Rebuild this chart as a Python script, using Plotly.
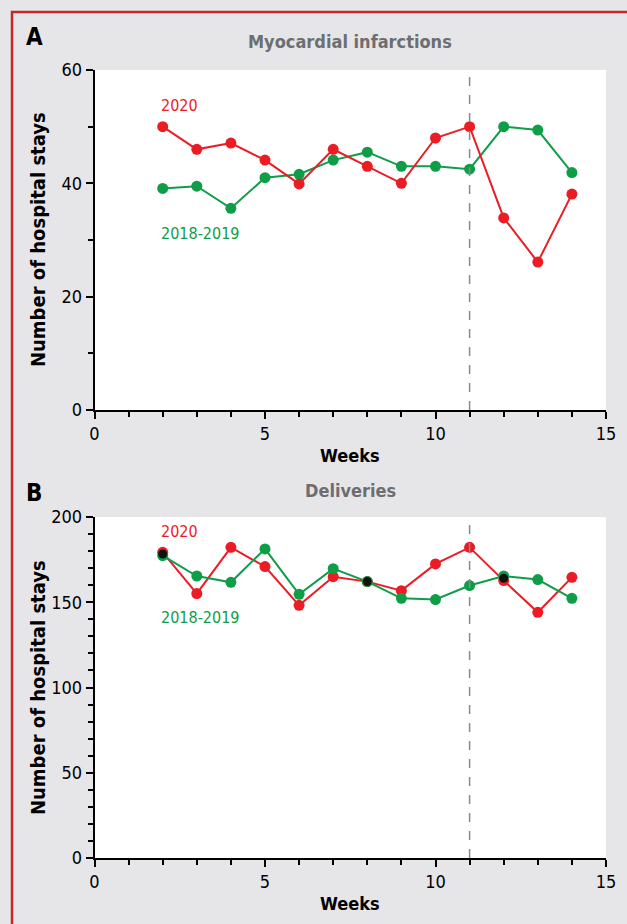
import plotly.graph_objects as go

weeks = list(range(2, 15))
mi_2020 = [50, 46, 47.1, 44.1, 39.9, 46, 43, 40, 48, 50, 33.9, 26.1, 38.1]
mi_1819 = [39.1, 39.5, 35.6, 41, 41.6, 44.1, 45.5, 43, 43, 42.5, 50, 49.4, 41.9]
del_2020 = [179.3, 155.1, 182.2, 170.9, 148.2, 165, 162.1, 156.8, 172.5, 182.2, 162.7, 144.1, 164.6]
del_1819 = [177.3, 165.4, 161.7, 181.3, 154.7, 169.7, 162.1, 152.3, 151.6, 159.8, 165.4, 163.3, 152.3]

RED = "#ec1c24"
GREEN = "#0f9d48"
FONT = "DejaVu Sans Condensed, Liberation Sans Narrow, Arial Narrow, sans-serif"
W, H = 627, 924

def px_x(p):
    return p / W

def px_y(p):
    return 1 - p / H

fig = go.Figure()

def add_series(x, y, color, xa, ya):
    fig.add_trace(go.Scatter(x=x, y=y, mode="lines+markers", xaxis=xa, yaxis=ya,
                             line=dict(color=color, width=2),
                             marker=dict(color=color, size=11),
                             showlegend=False, hoverinfo="skip"))

add_series(weeks, mi_1819, GREEN, "x", "y")
add_series(weeks, mi_2020, RED, "x", "y")
add_series(weeks, del_2020, RED, "x2", "y2")
add_series(weeks, del_1819, GREEN, "x2", "y2")

# overlapping points (multiply-like dark overlap)
ov_x = [w for w, a, b in zip(weeks, del_2020, del_1819) if abs(a - b) <= 3]
ov_y = [(a + b) / 2 for a, b in zip(del_2020, del_1819) if abs(a - b) <= 3]
fig.add_trace(go.Scatter(x=ov_x, y=ov_y, mode="markers", xaxis="x2", yaxis="y2",
                         marker=dict(color="#111111", size=9),
                         showlegend=False, hoverinfo="skip"))

xdom = [px_x(94.5), px_x(606)]
common_x = dict(range=[0, 15], tickvals=[0, 5, 10, 15], ticks="outside", ticklen=7,
                tickwidth=1.5, tickcolor="black", showline=True, linecolor="black",
                linewidth=1.5, showgrid=False, zeroline=False, automargin=False,
                tickfont=dict(family=FONT, size=18, color="black"),
                minor=dict(dtick=1, ticks="outside", ticklen=5, tickwidth=1.5, tickcolor="black"))
common_y = dict(ticks="outside", ticklen=7, tickwidth=1.5, tickcolor="black",
                showline=True, linecolor="black", linewidth=1.5, showgrid=False,
                zeroline=False, automargin=False,
                tickfont=dict(family=FONT, size=18, color="black"))

fig.update_layout(
    width=W, height=H,
    margin=dict(l=0, r=0, t=0, b=0),
    paper_bgcolor="#e6e6e8",
    plot_bgcolor="white",
    font=dict(family=FONT),
    xaxis=dict(domain=xdom, anchor="y", **common_x),
    yaxis=dict(domain=[px_y(410), px_y(70)], anchor="x", range=[0, 60],
               tickvals=[0, 20, 40, 60],
               minor=dict(dtick=10, ticks="outside", ticklen=5, tickwidth=1.5, tickcolor="black"),
               **common_y),
    xaxis2=dict(domain=xdom, anchor="y2", **common_x),
    yaxis2=dict(domain=[px_y(858), px_y(517)], anchor="x2", range=[0, 200],
                tickvals=[0, 50, 100, 150, 200],
                minor=dict(dtick=10, ticks="outside", ticklen=5, tickwidth=1.5, tickcolor="black"),
                **common_y),
)

# dashed vertical lines at week 11
for xr, yr in [("x", "y"), ("x2", "y2")]:
    fig.add_shape(type="line", xref=xr, yref=f"{yr} domain", x0=11, x1=11, y0=0, y1=1,
                  line=dict(color="#8a8a8a", width=1.5, dash="dash"))

# red frame (top and left)
fig.add_shape(type="path", xref="paper", yref="paper",
              path=f"M {px_x(12)},-0.01 L {px_x(12)},{px_y(12)} L 1.01,{px_y(12)}",
              line=dict(color="#c1272d", width=2.5))

ann = []
def text(x, y, s, size, color, bold=False, xref="paper", yref="paper", xanchor="center",
         yanchor="middle", angle=0):
    ann.append(dict(x=x, y=y, xref=xref, yref=yref, text=f"<b>{s}</b>" if bold else s,
                    showarrow=False, xanchor=xanchor, yanchor=yanchor, textangle=angle,
                    font=dict(family=FONT, size=size, color=color)))

text(px_x(24), px_y(37), "A", 24, "black", True, xanchor="left")
text(px_x(24), px_y(493), "B", 24, "black", True, xanchor="left")
text(px_x(350), px_y(42), "Myocardial infarctions", 18, "#6d6e71", True)
text(px_x(350), px_y(490), "Deliveries", 18, "#6d6e71", True)
text(px_x(38), px_y(240), "Number of hospital stays", 20, "black", True, angle=-90)
text(px_x(38), px_y(688), "Number of hospital stays", 20, "black", True, angle=-90)
text(px_x(350), px_y(455), "Weeks", 18, "black", True)
text(px_x(350), px_y(903), "Weeks", 18, "black", True)
text(1.88, 53.7, "2020", 16, RED, xref="x", yref="y", xanchor="left")
text(1.88, 31.2, "2018-2019", 16, GREEN, xref="x", yref="y", xanchor="left")
text(1.88, 191.6, "2020", 16, RED, xref="x2", yref="y2", xanchor="left")
text(1.88, 140.8, "2018-2019", 16, GREEN, xref="x2", yref="y2", xanchor="left")
fig.update_layout(annotations=ann)

fig.write_html("out.html", config={"displayModeBar": False},
               post_script="document.body.style.margin='0';document.body.style.padding='0';")
